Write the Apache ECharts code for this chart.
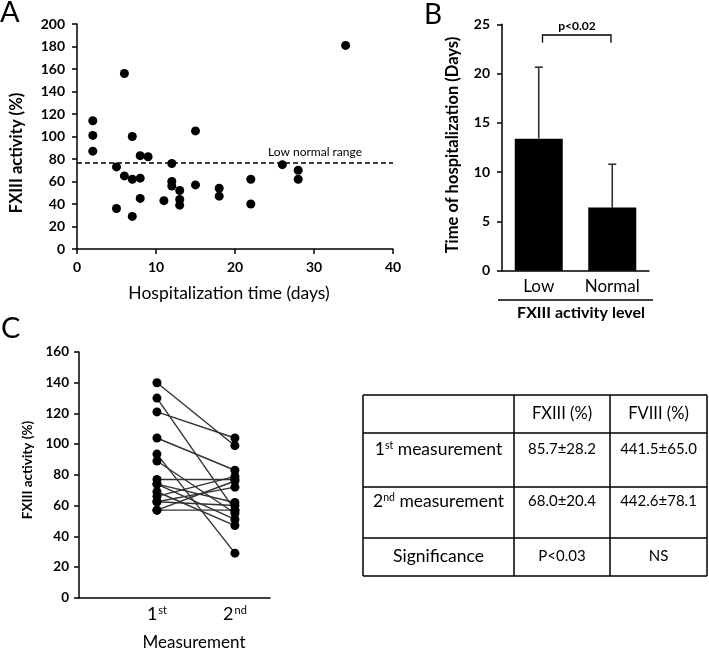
<!DOCTYPE html>
<html><head><meta charset="utf-8">
<script src="https://cdn.jsdelivr.net/npm/echarts@6/dist/echarts.min.js"></script>
<style>html,body{margin:0;padding:0;background:#fff}#c{width:709px;height:650px}</style>
</head><body><div id="c"></div>
<script>
// ---- Panel A: FXIII activity vs hospitalization time ----
const hospDays = [2,2,2,5,5,6,6,7,7,7,8,8,8,9,11,12,12,12,13,13,13,15,15,18,18,22,22,26,28,28,34];
const fxiiiAct = [114,101,87,73,36,156,65,100,62,29,83,63,45,82,43,76,60,56,52,44,39,105,57,54,47,62,40,75,70,62,181];
const lowNormal = 76.4;
const aXTicks = [0,10,20,30,40];
const aYTicks = [0,20,40,60,80,100,120,140,160,180,200];
// ---- Panel B ----
const barCats = ['Low','Normal'];
const barMeans = [13.4, 6.4];
const barSD = [7.25, 4.4];
const bYTicks = [0,5,10,15,20,25];
// ---- Panel C ----
const measCats = ['1st','2nd'];
const firstMeas  = [140,130,121,104,93.5,89,77,74,74,69,66,62.5,57,57,62.5];
const secondMeas = [99,57,104,83,29,55,77,51,62,47,79,72,57,76,60];
const cYTicks = [0,20,40,60,80,100,120,140,160];
// ---- Table ----
const tableHeader = ['', 'FXIII (%)', 'FVIII (%)'];
const tableRowLabels = ['1st measurement', '2nd measurement', 'Significance'];
const tableFXIII = ['85.7±28.2', '68.0±20.4', 'P<0.03'];
const tableFVIII = ['441.5±65.0', '442.6±78.1', 'NS'];

const FONT = 'Lato, "Open Sans", sans-serif';
const chart = echarts.init(document.getElementById('c'));

function axisBase() {
  return {
    axisLine: {show: true, lineStyle: {color: '#000', width: 1.5}},
    axisTick: {show: true, length: 5, lineStyle: {color: '#000', width: 1.5}},
    splitLine: {show: false},
    axisLabel: {color: '#000', fontFamily: FONT, fontSize: 14, fontWeight: 'bold'}
  };
}

const supRich = {
  a: {fontSize: 18, fontFamily: FONT, color: '#000'},
  s: {fontSize: 11, fontFamily: FONT, color: '#000', verticalAlign: 'top', padding: [0,0,0,1]}
};
function supLabel(t) {
  const m = t.match(/^(\d)(\w\w)$/);
  return m ? '{a|' + m[1] + '}{s|' + m[2] + '}' : t;
}

const lineSeries = firstMeas.map((v, i) => ({
  type: 'line', xAxisIndex: 2, yAxisIndex: 2,
  data: [[1, v], [2, secondMeas[i]]],
  symbol: 'circle', symbolSize: 9,
  itemStyle: {color: '#000', opacity: 1},
  lineStyle: {color: '#333', width: 1.4},
  silent: true, animation: false, z: 3
}));

// table graphics
const tX = [363, 514, 610, 707];
const tY = [395, 433, 487, 538, 576];
const tableG = [];
tY.forEach(y => tableG.push({type: 'line', shape: {x1: tX[0], y1: y, x2: tX[3], y2: y}, style: {stroke: '#000', lineWidth: 1.5}}));
tX.forEach(x => tableG.push({type: 'line', shape: {x1: x, y1: tY[0], x2: x, y2: tY[4]}, style: {stroke: '#000', lineWidth: 1.5}}));
function tText(txt, cx, cy, size) {
  const rich = {
    a: {fontSize: size, fontFamily: FONT, color: '#000'},
    s: {fontSize: size * 0.6, fontFamily: FONT, color: '#000', verticalAlign: 'top'}
  };
  const m = txt.match(/^(\d)(st|nd|rd|th)(.*)$/);
  const rt = m ? '{a|' + m[1] + '}{s|' + m[2] + '}{a|' + m[3] + '}' : '{a|' + txt + '}';
  return {type: 'text', style: {text: rt, rich: rich, x: cx, y: cy, align: 'center', verticalAlign: 'middle'}};
}
const colC = [(tX[0]+tX[1])/2, (tX[1]+tX[2])/2, (tX[2]+tX[3])/2];
tableHeader.forEach((h, j) => { if (h) tableG.push(tText(h, colC[j], 414, 16.5)); });
const rowTextY = [449, 501, 556];
tableRowLabels.forEach((r, i) => {
  tableG.push(tText(r, colC[0], rowTextY[i], 17.5));
  tableG.push(tText(tableFXIII[i], colC[1], rowTextY[i], 15));
  tableG.push(tText(tableFVIII[i], colC[2], rowTextY[i], 15));
});

function rotText(txt, x, y, size, weight) {
  return {type: 'text', x: x, y: y, rotation: Math.PI/2,
    style: {text: txt, x: 0, y: 0, align: 'center', verticalAlign: 'middle', fontSize: size, fontWeight: weight || 'bold', fontFamily: FONT, fill: '#000'}};
}
function txt(t, x, y, size, weight, align) {
  return {type: 'text', style: {text: t, x: x, y: y, align: align || 'center', verticalAlign: 'middle', fontSize: size, fontWeight: weight || 'normal', fontFamily: FONT, fill: '#000'}};
}

const option = {
  animation: false,
  backgroundColor: '#fff',
  grid: [
    {left: 77, top: 24, width: 316, height: 225},
    {left: 502, top: 24.3, width: 147, height: 246.4},
    {left: 79, top: 352, width: 191, height: 245.7}
  ],
  xAxis: [
    Object.assign(axisBase(), {type: 'value', gridIndex: 0, min: 0, max: 40, interval: 10,
      axisLabel: {color: '#000', fontFamily: FONT, fontSize: 14, fontWeight: 'bold', margin: 11}}),
    Object.assign(axisBase(), {type: 'category', gridIndex: 1, data: barCats,
      axisTick: {show: false},
      axisLabel: {color: '#000', fontFamily: FONT, fontSize: 17, margin: 7}}),
    Object.assign(axisBase(), {type: 'value', gridIndex: 2, min: 0, max: 2.45,
      axisTick: {show: false},
      axisLabel: {customValues: [1, 2], formatter: v => supLabel(measCats[Math.round(v) - 1]), rich: supRich, margin: 7}})
  ],
  yAxis: [
    Object.assign(axisBase(), {type: 'value', gridIndex: 0, min: 0, max: 200, interval: 20,
      axisLabel: {color: '#000', fontFamily: FONT, fontSize: 14, fontWeight: 'bold', margin: 12}}),
    Object.assign(axisBase(), {type: 'value', gridIndex: 1, min: 0, max: 25, interval: 5,
      axisLabel: {color: '#000', fontFamily: FONT, fontSize: 14, fontWeight: 'bold', margin: 12}}),
    Object.assign(axisBase(), {type: 'value', gridIndex: 2, min: 0, max: 160, interval: 20,
      axisLabel: {color: '#000', fontFamily: FONT, fontSize: 13.5, fontWeight: 'bold', margin: 10}})
  ],
  series: [
    {type: 'scatter', xAxisIndex: 0, yAxisIndex: 0,
      data: hospDays.map((d, i) => [d, fxiiiAct[i]]),
      symbolSize: 9, itemStyle: {color: '#000', opacity: 1},
      markLine: {silent: true, symbol: 'none', label: {show: false},
        lineStyle: {color: '#000', type: [5, 3], width: 1.5},
        data: [{yAxis: lowNormal}]}},
    {type: 'bar', xAxisIndex: 1, yAxisIndex: 1, data: barMeans, barWidth: 48,
      itemStyle: {color: '#000'}, z: 2},
    {type: 'custom', xAxisIndex: 1, yAxisIndex: 1, z: 1,
      data: barMeans.map((m, i) => [i, m, m + barSD[i]]),
      renderItem: (params, api) => {
        const p0 = api.coord([api.value(0), api.value(1)]);
        const p1 = api.coord([api.value(0), api.value(2)]);
        const st = {stroke: '#333', lineWidth: 1.6};
        return {type: 'group', children: [
          {type: 'line', shape: {x1: p0[0], y1: p0[1], x2: p1[0], y2: p1[1]}, style: st},
          {type: 'line', shape: {x1: p1[0] - 4, y1: p1[1], x2: p1[0] + 4, y2: p1[1]}, style: st}
        ]};
      }}
  ].concat(lineSeries),
  graphic: [
    txt('A', 0, 13, 29, 'normal', 'left'),
    txt('B', 424, 15, 28, 'normal', 'left'),
    txt('C', 1, 329, 29, 'normal', 'left'),
    rotText('FXIII activity (%)', 17, 153, 16.5),
    txt('Hospitalization time (days)', 229, 293, 17.5),
    txt('Low normal range', 315, 152, 12),
    rotText('Time of hospitalization (Days)', 453, 145, 16.5),
    {type: 'line', shape: {x1: 498, y1: 300, x2: 653, y2: 300}, style: {stroke: '#000', lineWidth: 1.5}},
    txt('FXIII activity level', 581, 313, 16, 'bold'),
    {type: 'polyline', shape: {points: [[542.5, 42.7], [542.5, 35], [611, 35], [611, 42.7]]}, style: {stroke: '#000', lineWidth: 1.3, fill: null}},
    txt('p<0.02', 577, 26, 12, 'bold'),
    rotText('FXIII activity (%)', 28, 470, 13.5),
    txt('Measurement', 194, 643, 17)
  ].concat(tableG)
};
chart.setOption(option);
</script></body></html>
